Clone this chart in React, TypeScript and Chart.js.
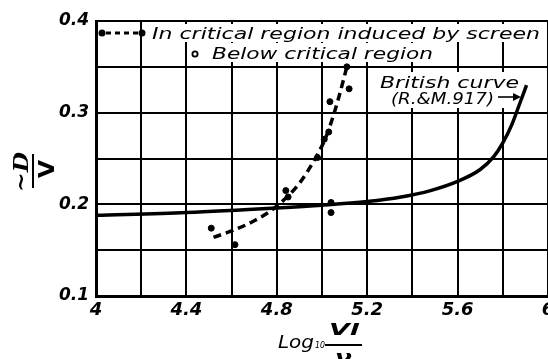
import { useEffect, useRef } from "react";
import { Chart, registerables } from "chart.js";
Chart.register(...registerables);

const britishX = [4.0, 4.4, 4.8, 5.0, 5.2, 5.35, 5.48, 5.6, 5.7, 5.76, 5.8, 5.84, 5.875, 5.905];
const britishY = [0.188, 0.191, 0.196, 0.199, 0.203, 0.208, 0.215, 0.225, 0.238, 0.252, 0.267, 0.287, 0.31, 0.33];
const criticalCurveX = [4.52, 4.6, 4.7, 4.8, 4.9, 4.97, 5.02, 5.07, 5.11];
const criticalCurveY = [0.164, 0.171, 0.182, 0.198, 0.223, 0.25, 0.275, 0.313, 0.35];
const criticalPointsX = [4.84, 4.85, 4.98, 5.01, 5.03, 5.035, 5.11, 5.12];
const criticalPointsY = [0.215, 0.208, 0.251, 0.271, 0.279, 0.312, 0.35, 0.326];
const belowPointsX = [4.51, 4.615, 5.04, 5.04];
const belowPointsY = [0.174, 0.156, 0.202, 0.191];
const xTickLabels = ["4", "4.4", "4.8", "5.2", "5.6", "6"];
const yTickLabels = ["0.1", "0.2", "0.3", "0.4"];

const legendCritical = "In critical region induced by screen";
const legendBelow = "Below critical region";
const annotationLines = ["British curve", "(R.&M.917)"];

const pts = (xs: number[], ys: number[]) => xs.map((x, i) => ({ x, y: ys[i] }));

function stretchText(ctx: CanvasRenderingContext2D, text: string, x: number, y: number, font: string, targetW: number) {
  ctx.font = font;
  const w = ctx.measureText(text).width;
  ctx.save();
  ctx.translate(x, y);
  ctx.scale(targetW / w, 1);
  ctx.fillText(text, 0, 0);
  ctx.restore();
}

const overlay = {
  id: "overlay",
  afterDraw(chart: any) {
    const ctx: CanvasRenderingContext2D = chart.ctx;
    ctx.save();
    ctx.fillStyle = "#fff";
    ctx.fillRect(148, 24, 397, 18);
    ctx.fillRect(188, 43, 252, 19);
    ctx.fillStyle = "#000";
    ctx.strokeStyle = "#000";
    ctx.textAlign = "left";
    ctx.textBaseline = "alphabetic";
    // legend line 1
    ctx.lineWidth = 3;
    ctx.setLineDash([5, 4]);
    ctx.beginPath();
    ctx.moveTo(106, 33);
    ctx.lineTo(140, 33);
    ctx.stroke();
    ctx.setLineDash([]);
    for (const cx of [102, 142]) {
      ctx.beginPath();
      ctx.arc(cx, 33, 3.5, 0, Math.PI * 2);
      ctx.fill();
    }
    stretchText(ctx, legendCritical, 152, 38.5, "italic 16px 'DejaVu Sans'", 388);
    // legend line 2
    ctx.lineWidth = 1.8;
    ctx.beginPath();
    ctx.arc(195, 54, 2.6, 0, Math.PI * 2);
    ctx.stroke();
    stretchText(ctx, legendBelow, 212, 59, "italic 16.5px 'DejaVu Sans'", 221);
    // annotation
    ctx.fillStyle = "#fff";
    ctx.fillRect(376, 72, 140, 36);
    ctx.fillStyle = "#000";
    stretchText(ctx, annotationLines[0], 380, 88, "italic 16.5px 'DejaVu Sans'", 139);
    stretchText(ctx, annotationLines[1], 391, 104, "italic 16.5px 'DejaVu Sans'", 103);
    ctx.lineWidth = 1.6;
    ctx.beginPath();
    ctx.moveTo(498, 97);
    ctx.lineTo(517, 97);
    ctx.stroke();
    ctx.beginPath();
    ctx.moveTo(521, 97);
    ctx.lineTo(513, 93);
    ctx.lineTo(513, 101);
    ctx.closePath();
    ctx.fill();
    // x title
    stretchText(ctx, "Log", 278, 348, "italic 17px 'DejaVu Sans'", 36);
    stretchText(ctx, "10", 315, 348, "italic 9px 'DejaVu Sans'", 10);
    stretchText(ctx, "Vl", 329, 335, "bold italic 16px 'DejaVu Sans'", 30);
    ctx.lineWidth = 2;
    ctx.beginPath();
    ctx.moveTo(325, 345);
    ctx.lineTo(362, 345);
    ctx.stroke();
    stretchText(ctx, "ν", 335, 363, "bold italic 18px 'DejaVu Sans'", 17);
    // y title
    ctx.save();
    ctx.translate(33, 171);
    ctx.rotate(-Math.PI / 2);
    stretchText(ctx, "~D", -21, -5, "bold italic 20px 'DejaVu Serif'", 40);
    ctx.lineWidth = 2;
    ctx.beginPath();
    ctx.moveTo(-17, 0);
    ctx.lineTo(17, 0);
    ctx.stroke();
    stretchText(ctx, "V", -7, 21, "bold 22px 'DejaVu Sans'", 18);
    ctx.restore();
    ctx.restore();
  },
};

export default function App() {
  const ref = useRef<HTMLCanvasElement | null>(null);
  useEffect(() => {
    document.body.style.margin = "0";
    const canvas = ref.current!;
    const chart = new Chart(canvas, {
      type: "scatter",
      data: {
        datasets: [
          {
            data: pts(britishX, britishY),
            showLine: true,
            borderColor: "#000",
            borderWidth: 3.5,
            pointRadius: 0,
            cubicInterpolationMode: "monotone",
          } as any,
          {
            data: pts(criticalCurveX, criticalCurveY),
            showLine: true,
            borderColor: "#000",
            borderWidth: 3.5,
            borderDash: [8, 5],
            pointRadius: 0,
            cubicInterpolationMode: "monotone",
          } as any,
          {
            data: pts(criticalPointsX, criticalPointsY),
            backgroundColor: "#000",
            borderColor: "#000",
            pointRadius: 3,
          },
          {
            data: pts(belowPointsX, belowPointsY),
            backgroundColor: "#000",
            borderColor: "#000",
            pointRadius: 3,
          },
        ],
      },
      options: {
        animation: false,
        responsive: false,
        layout: { padding: { top: 21, right: 12, left: 0, bottom: 0 } },
        plugins: { legend: { display: false }, tooltip: { enabled: false } },
        scales: {
          x: {
            type: "linear",
            min: 4,
            max: 6,
            afterFit: (s: any) => {
              s.height = 63;
            },
            ticks: {
              stepSize: 0.2,
              padding: 4,
              color: "#000",
              font: { family: "'DejaVu Sans'", size: 18, style: "italic", weight: "bold" },
              maxRotation: 0,
              autoSkip: false,
              callback: (v: any) => {
                const r = (Number(v) - 4) / 0.4;
                const i = Math.round(r);
                return Math.abs(r - i) < 1e-6 ? xTickLabels[i] : "";
              },
            },
            grid: { color: "#000", lineWidth: 2, drawTicks: false },
            border: { display: true, color: "#000", width: 3 },
          },
          y: {
            type: "linear",
            min: 0.1,
            max: 0.4,
            afterFit: (s: any) => {
              s.width = 96;
            },
            ticks: {
              stepSize: 0.05,
              padding: 7,
              color: "#000",
              font: { family: "'DejaVu Sans'", size: 17, style: "italic", weight: "bold" },
              autoSkip: false,
              callback: (v: any) => {
                const r = (Number(v) - 0.1) / 0.1;
                const i = Math.round(r);
                return Math.abs(r - i) < 1e-6 ? yTickLabels[i] : "";
              },
            },
            grid: { color: "#000", lineWidth: 2, drawTicks: false },
            border: { display: true, color: "#000", width: 3 },
          },
        },
      },
      plugins: [overlay],
    });
    return () => chart.destroy();
  }, []);
  return (
    <div style={{ width: 548, height: 359, overflow: "hidden", position: "relative", background: "#fff" }}>
      <canvas ref={ref} width={560} height={359} style={{ display: "block" }} />
    </div>
  );
}
